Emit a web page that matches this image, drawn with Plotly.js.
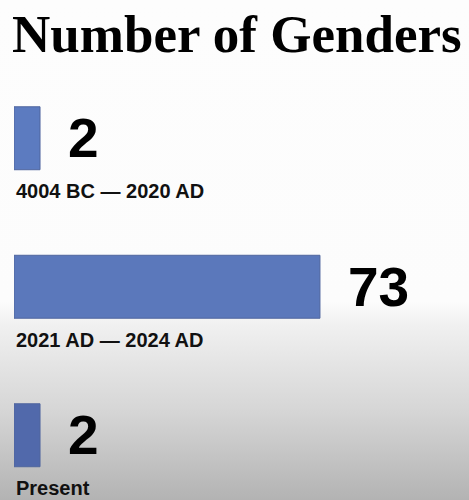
<!DOCTYPE html>
<html>
<head>
<meta charset="utf-8">
<script src="https://cdn.plot.ly/plotly-3.0.1.min.js"></script>
<style>
  html, body { margin: 0; padding: 0; }
  body {
    width: 469px; height: 500px; overflow: hidden;
    background: linear-gradient(to bottom, #fdfdfd 0px, #fcfcfc 302px, #f0f0f0 326px, #d6d6d6 410px, #b3b3b3 500px);
  }
  #chart { width: 469px; height: 500px; }
</style>
</head>
<body>
<div id="chart"></div>
<script>
const chartTitle = 'Number of Genders';
const categories = ['4004 BC — 2020 AD', '2021 AD — 2024 AD', 'Present'];
const values = [2, 73, 2];
const valueLabels = ['2', '73', '2'];

// visual constants (style only)
const BAR_BASE = -4.6;
const barColors = ['#5c7bc0', '#5b78bb', '#5169ab'];

const trace = {
  type: 'bar',
  orientation: 'h',
  y: categories,
  x: values.map(v => v - BAR_BASE),
  base: categories.map(() => BAR_BASE),
  marker: { color: barColors, line: { color: '#50669e', width: 1 } },
  hoverinfo: 'skip'
};

const annotations = [];
categories.forEach((c, i) => {
  annotations.push({
    xref: 'x', yref: 'y', x: values[i], y: c,
    text: valueLabels[i], showarrow: false,
    xanchor: 'left', yanchor: 'middle', xshift: 26, yshift: 0,
    font: { family: 'Liberation Sans, Arial, sans-serif', size: 55, color: '#000', weight: 'bold' }
  });
  annotations.push({
    xref: 'x', yref: 'y', x: BAR_BASE, y: c,
    text: c, showarrow: false,
    xanchor: 'left', yanchor: 'middle', xshift: 0, yshift: -53,
    font: { family: 'Liberation Sans, Arial, sans-serif', size: 20, color: '#111', weight: 'bold' }
  });
});

const layout = {
  width: 469, height: 500,
  margin: { l: 14, r: 0, t: 64, b: 0 },
  paper_bgcolor: 'rgba(0,0,0,0)',
  plot_bgcolor: 'rgba(0,0,0,0)',
  showlegend: false,
  bargap: 0.576,
  title: {
    text: chartTitle,
    x: 0.505, xanchor: 'center',
    y: 0.934, yanchor: 'middle', yref: 'container',
    font: { family: 'Liberation Serif, Times New Roman, serif', size: 53, color: '#000', weight: 'bold' }
  },
  xaxis: { visible: false, range: [BAR_BASE, 110.8], fixedrange: true },
  yaxis: { visible: false, type: 'category', categoryorder: 'array', categoryarray: categories, range: [2.436, -0.5], fixedrange: true },
  annotations: annotations
};

Plotly.newPlot('chart', [trace], layout, { displayModeBar: false, staticPlot: true });
</script>
</body>
</html>
